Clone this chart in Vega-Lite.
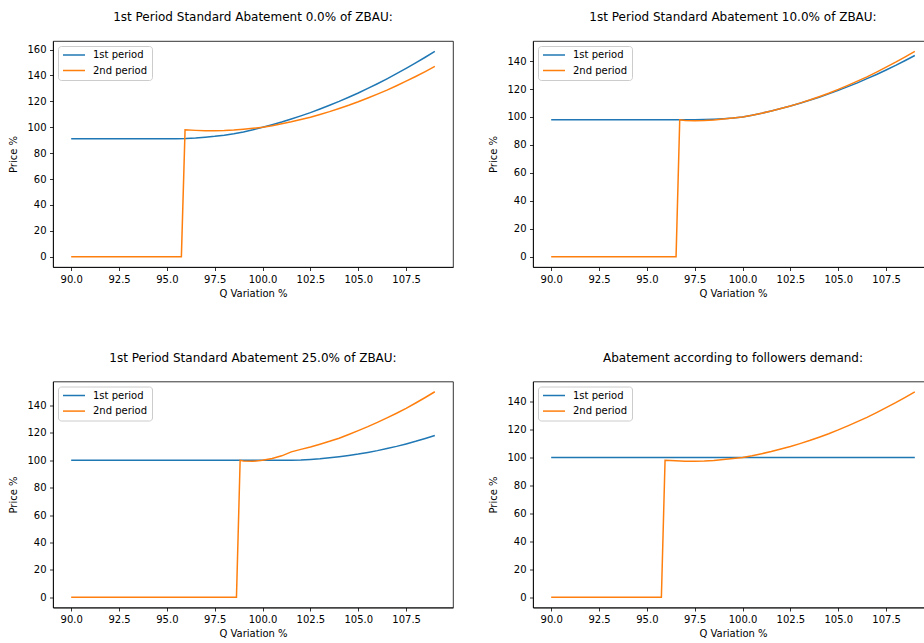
{
  "$schema": "https://vega.github.io/schema/vega-lite/v6.json",
  "background": "white",
  "padding": {"left": 8, "top": 10, "right": 0, "bottom": 0},
  "config": {
    "font": "DejaVu Sans",
    "view": {"stroke": "black", "strokeWidth": 0.8},
    "axis": {
      "grid": false,
      "domainColor": "black",
      "domainWidth": 0.8,
      "tickColor": "black",
      "tickWidth": 0.8,
      "tickSize": 3.5,
      "labelPadding": 3.5,
      "labelFont": "DejaVu Sans",
      "labelFontSize": 10,
      "labelColor": "black",
      "labelFlush": false,
      "titleFont": "DejaVu Sans",
      "titleFontSize": 10,
      "titleFontWeight": "normal",
      "titleColor": "black"
    },
    "axisX": {"titlePadding": 4},
    "axisY": {"titlePadding": 8},
    "title": {
      "font": "DejaVu Sans",
      "fontSize": 12,
      "fontWeight": "normal",
      "color": "black",
      "anchor": "middle",
      "frame": "group",
      "offset": 17
    },
    "legend": {
      "orient": "top-left",
      "offset": 5,
      "title": null,
      "symbolType": "stroke",
      "symbolSize": 484,
      "symbolStrokeWidth": 1.5,
      "clipHeight": 10,
      "labelOffset": 7,
      "labelFont": "DejaVu Sans",
      "labelFontSize": 10,
      "labelColor": "black",
      "padding": 4,
      "rowPadding": 5.6,
      "strokeColor": "#cccccc",
      "fillColor": "rgba(255,255,255,0.8)",
      "cornerRadius": 3
    }
  },
  "datasets": {
    "p1": [
      {"q": 90, "price": 91.1, "series": "1st period"},
      {"q": 95.5, "price": 91.1, "series": "1st period"},
      {"q": 96, "price": 91.3, "series": "1st period"},
      {"q": 96.5, "price": 91.7, "series": "1st period"},
      {"q": 97, "price": 92.3, "series": "1st period"},
      {"q": 97.5, "price": 93.0, "series": "1st period"},
      {"q": 98, "price": 93.9, "series": "1st period"},
      {"q": 98.5, "price": 95.0, "series": "1st period"},
      {"q": 99, "price": 96.4, "series": "1st period"},
      {"q": 99.5, "price": 98.1, "series": "1st period"},
      {"q": 100, "price": 100.0, "series": "1st period"},
      {"q": 100.5, "price": 102.0, "series": "1st period"},
      {"q": 101, "price": 104.1, "series": "1st period"},
      {"q": 101.5, "price": 106.4, "series": "1st period"},
      {"q": 102, "price": 108.8, "series": "1st period"},
      {"q": 102.5, "price": 111.3, "series": "1st period"},
      {"q": 103, "price": 114.1, "series": "1st period"},
      {"q": 103.5, "price": 117.0, "series": "1st period"},
      {"q": 104, "price": 120.0, "series": "1st period"},
      {"q": 104.5, "price": 123.2, "series": "1st period"},
      {"q": 105, "price": 126.5, "series": "1st period"},
      {"q": 105.5, "price": 130.0, "series": "1st period"},
      {"q": 106, "price": 133.6, "series": "1st period"},
      {"q": 106.5, "price": 137.4, "series": "1st period"},
      {"q": 107, "price": 141.4, "series": "1st period"},
      {"q": 107.5, "price": 145.5, "series": "1st period"},
      {"q": 108, "price": 149.7, "series": "1st period"},
      {"q": 108.5, "price": 154.1, "series": "1st period"},
      {"q": 109, "price": 158.7, "series": "1st period"},
      {"q": 90, "price": 0, "series": "2nd period"},
      {"q": 95.758, "price": 0, "series": "2nd period"},
      {"q": 95.95, "price": 98.0, "series": "2nd period"},
      {"q": 96.5, "price": 97.6, "series": "2nd period"},
      {"q": 97, "price": 97.35, "series": "2nd period"},
      {"q": 97.5, "price": 97.3, "series": "2nd period"},
      {"q": 98, "price": 97.5, "series": "2nd period"},
      {"q": 98.5, "price": 97.9, "series": "2nd period"},
      {"q": 99, "price": 98.5, "series": "2nd period"},
      {"q": 99.5, "price": 99.2, "series": "2nd period"},
      {"q": 100, "price": 100.0, "series": "2nd period"},
      {"q": 100.5, "price": 101.25, "series": "2nd period"},
      {"q": 101, "price": 102.7, "series": "2nd period"},
      {"q": 101.5, "price": 104.2, "series": "2nd period"},
      {"q": 102, "price": 106.0, "series": "2nd period"},
      {"q": 102.5, "price": 107.8, "series": "2nd period"},
      {"q": 103, "price": 109.9, "series": "2nd period"},
      {"q": 103.5, "price": 112.1, "series": "2nd period"},
      {"q": 104, "price": 114.5, "series": "2nd period"},
      {"q": 104.5, "price": 117.0, "series": "2nd period"},
      {"q": 105, "price": 119.7, "series": "2nd period"},
      {"q": 105.5, "price": 122.6, "series": "2nd period"},
      {"q": 106, "price": 125.6, "series": "2nd period"},
      {"q": 106.5, "price": 128.7, "series": "2nd period"},
      {"q": 107, "price": 132.1, "series": "2nd period"},
      {"q": 107.5, "price": 135.6, "series": "2nd period"},
      {"q": 108, "price": 139.2, "series": "2nd period"},
      {"q": 108.5, "price": 143.0, "series": "2nd period"},
      {"q": 109, "price": 147.0, "series": "2nd period"}
    ],
    "p2": [
      {"q": 90, "price": 98.0, "series": "1st period"},
      {"q": 96.717, "price": 98.0, "series": "1st period"},
      {"q": 97, "price": 97.95, "series": "1st period"},
      {"q": 97.5, "price": 97.95, "series": "1st period"},
      {"q": 98, "price": 98.1, "series": "1st period"},
      {"q": 98.5, "price": 98.4, "series": "1st period"},
      {"q": 99, "price": 98.8, "series": "1st period"},
      {"q": 99.5, "price": 99.3, "series": "1st period"},
      {"q": 100, "price": 100.0, "series": "1st period"},
      {"q": 100.5, "price": 101.3, "series": "1st period"},
      {"q": 101, "price": 102.7, "series": "1st period"},
      {"q": 101.5, "price": 104.3, "series": "1st period"},
      {"q": 102, "price": 106.0, "series": "1st period"},
      {"q": 102.5, "price": 107.8, "series": "1st period"},
      {"q": 103, "price": 109.8, "series": "1st period"},
      {"q": 103.5, "price": 111.9, "series": "1st period"},
      {"q": 104, "price": 114.1, "series": "1st period"},
      {"q": 104.5, "price": 116.5, "series": "1st period"},
      {"q": 105, "price": 119.0, "series": "1st period"},
      {"q": 105.5, "price": 121.7, "series": "1st period"},
      {"q": 106, "price": 124.4, "series": "1st period"},
      {"q": 106.5, "price": 127.4, "series": "1st period"},
      {"q": 107, "price": 130.4, "series": "1st period"},
      {"q": 107.5, "price": 133.6, "series": "1st period"},
      {"q": 108, "price": 136.9, "series": "1st period"},
      {"q": 108.5, "price": 140.4, "series": "1st period"},
      {"q": 109, "price": 144.0, "series": "1st period"},
      {"q": 90, "price": 0, "series": "2nd period"},
      {"q": 96.525, "price": 0, "series": "2nd period"},
      {"q": 96.717, "price": 98.0, "series": "2nd period"},
      {"q": 97, "price": 97.5, "series": "2nd period"},
      {"q": 97.5, "price": 97.3, "series": "2nd period"},
      {"q": 98, "price": 97.5, "series": "2nd period"},
      {"q": 98.5, "price": 97.9, "series": "2nd period"},
      {"q": 99, "price": 98.5, "series": "2nd period"},
      {"q": 99.5, "price": 99.2, "series": "2nd period"},
      {"q": 100, "price": 100.0, "series": "2nd period"},
      {"q": 100.5, "price": 101.25, "series": "2nd period"},
      {"q": 101, "price": 102.7, "series": "2nd period"},
      {"q": 101.5, "price": 104.2, "series": "2nd period"},
      {"q": 102, "price": 106.0, "series": "2nd period"},
      {"q": 102.5, "price": 107.8, "series": "2nd period"},
      {"q": 103, "price": 109.9, "series": "2nd period"},
      {"q": 103.5, "price": 112.1, "series": "2nd period"},
      {"q": 104, "price": 114.5, "series": "2nd period"},
      {"q": 104.5, "price": 117.0, "series": "2nd period"},
      {"q": 105, "price": 119.7, "series": "2nd period"},
      {"q": 105.5, "price": 122.6, "series": "2nd period"},
      {"q": 106, "price": 125.6, "series": "2nd period"},
      {"q": 106.5, "price": 128.7, "series": "2nd period"},
      {"q": 107, "price": 132.1, "series": "2nd period"},
      {"q": 107.5, "price": 135.6, "series": "2nd period"},
      {"q": 108, "price": 139.2, "series": "2nd period"},
      {"q": 108.5, "price": 143.0, "series": "2nd period"},
      {"q": 109, "price": 147.0, "series": "2nd period"}
    ],
    "p3": [
      {"q": 90, "price": 100.0, "series": "1st period"},
      {"q": 101, "price": 100.0, "series": "1st period"},
      {"q": 101.5, "price": 100.1, "series": "1st period"},
      {"q": 102, "price": 100.3, "series": "1st period"},
      {"q": 102.5, "price": 100.7, "series": "1st period"},
      {"q": 103, "price": 101.2, "series": "1st period"},
      {"q": 103.5, "price": 101.9, "series": "1st period"},
      {"q": 104, "price": 102.7, "series": "1st period"},
      {"q": 104.5, "price": 103.6, "series": "1st period"},
      {"q": 105, "price": 104.6, "series": "1st period"},
      {"q": 105.5, "price": 105.8, "series": "1st period"},
      {"q": 106, "price": 107.1, "series": "1st period"},
      {"q": 106.5, "price": 108.6, "series": "1st period"},
      {"q": 107, "price": 110.2, "series": "1st period"},
      {"q": 107.5, "price": 112.0, "series": "1st period"},
      {"q": 108, "price": 113.9, "series": "1st period"},
      {"q": 108.5, "price": 116.0, "series": "1st period"},
      {"q": 109, "price": 118.2, "series": "1st period"},
      {"q": 90, "price": 0, "series": "2nd period"},
      {"q": 98.636, "price": 0, "series": "2nd period"},
      {"q": 98.828, "price": 100.0, "series": "2nd period"},
      {"q": 99, "price": 99.6, "series": "2nd period"},
      {"q": 99.5, "price": 99.3, "series": "2nd period"},
      {"q": 100, "price": 100.0, "series": "2nd period"},
      {"q": 100.5, "price": 101.3, "series": "2nd period"},
      {"q": 101, "price": 103.3, "series": "2nd period"},
      {"q": 101.5, "price": 106.2, "series": "2nd period"},
      {"q": 102, "price": 108.0, "series": "2nd period"},
      {"q": 102.5, "price": 109.8, "series": "2nd period"},
      {"q": 103, "price": 111.8, "series": "2nd period"},
      {"q": 103.5, "price": 113.9, "series": "2nd period"},
      {"q": 104, "price": 116.2, "series": "2nd period"},
      {"q": 104.5, "price": 118.9, "series": "2nd period"},
      {"q": 105, "price": 121.7, "series": "2nd period"},
      {"q": 105.5, "price": 124.6, "series": "2nd period"},
      {"q": 106, "price": 127.7, "series": "2nd period"},
      {"q": 106.5, "price": 131.0, "series": "2nd period"},
      {"q": 107, "price": 134.4, "series": "2nd period"},
      {"q": 107.5, "price": 138.0, "series": "2nd period"},
      {"q": 108, "price": 141.9, "series": "2nd period"},
      {"q": 108.5, "price": 145.9, "series": "2nd period"},
      {"q": 109, "price": 150.1, "series": "2nd period"}
    ],
    "p4": [
      {"q": 90, "price": 100.0, "series": "1st period"},
      {"q": 109, "price": 100.0, "series": "1st period"},
      {"q": 90, "price": 0, "series": "2nd period"},
      {"q": 95.758, "price": 0, "series": "2nd period"},
      {"q": 95.95, "price": 98.0, "series": "2nd period"},
      {"q": 96.5, "price": 97.6, "series": "2nd period"},
      {"q": 97, "price": 97.35, "series": "2nd period"},
      {"q": 97.5, "price": 97.3, "series": "2nd period"},
      {"q": 98, "price": 97.5, "series": "2nd period"},
      {"q": 98.5, "price": 97.9, "series": "2nd period"},
      {"q": 99, "price": 98.5, "series": "2nd period"},
      {"q": 99.5, "price": 99.2, "series": "2nd period"},
      {"q": 100, "price": 100.0, "series": "2nd period"},
      {"q": 100.5, "price": 101.25, "series": "2nd period"},
      {"q": 101, "price": 102.7, "series": "2nd period"},
      {"q": 101.5, "price": 104.2, "series": "2nd period"},
      {"q": 102, "price": 106.0, "series": "2nd period"},
      {"q": 102.5, "price": 107.8, "series": "2nd period"},
      {"q": 103, "price": 109.9, "series": "2nd period"},
      {"q": 103.5, "price": 112.1, "series": "2nd period"},
      {"q": 104, "price": 114.5, "series": "2nd period"},
      {"q": 104.5, "price": 117.0, "series": "2nd period"},
      {"q": 105, "price": 119.7, "series": "2nd period"},
      {"q": 105.5, "price": 122.6, "series": "2nd period"},
      {"q": 106, "price": 125.6, "series": "2nd period"},
      {"q": 106.5, "price": 128.7, "series": "2nd period"},
      {"q": 107, "price": 132.1, "series": "2nd period"},
      {"q": 107.5, "price": 135.6, "series": "2nd period"},
      {"q": 108, "price": 139.2, "series": "2nd period"},
      {"q": 108.5, "price": 143.0, "series": "2nd period"},
      {"q": 109, "price": 147.0, "series": "2nd period"}
    ]
  },
  "spacing": 340.5,
  "bounds": "flush",
  "resolve": {"scale": {"color": "independent"}, "legend": {"color": "independent"}},
  "vconcat": [
    {
      "spacing": 80,
      "bounds": "flush",
      "resolve": {"scale": {"color": "independent"}, "legend": {"color": "independent"}},
      "hconcat": [
        {
          "title": "1st Period Standard Abatement 0.0% of ZBAU:",
          "width": 400,
          "height": 226,
          "data": {"name": "p1"},
          "mark": {"type": "line", "strokeWidth": 1.5, "clip": true},
          "encoding": {
            "x": {"field": "q", "type": "quantitative", "title": "Q Variation %",
                  "scale": {"domain": [89.05, 109.95], "nice": false, "zero": false},
                  "axis": {"values": [90, 92.5, 95, 97.5, 100, 102.5, 105, 107.5], "format": ".1f"}},
            "y": {"field": "price", "type": "quantitative", "title": "Price %",
                  "scale": {"domain": [-7.94, 166.64], "nice": false, "zero": false},
                  "axis": {"values": [0, 20, 40, 60, 80, 100, 120, 140, 160]}},
            "color": {"field": "series", "type": "nominal",
                      "scale": {"domain": ["1st period", "2nd period"], "range": ["#1f77b4", "#ff7f0e"]}}
          }
        },
        {
          "title": "1st Period Standard Abatement 10.0% of ZBAU:",
          "width": 400,
          "height": 226,
          "data": {"name": "p2"},
          "mark": {"type": "line", "strokeWidth": 1.5, "clip": true},
          "encoding": {
            "x": {"field": "q", "type": "quantitative", "title": "Q Variation %",
                  "scale": {"domain": [89.05, 109.95], "nice": false, "zero": false},
                  "axis": {"values": [90, 92.5, 95, 97.5, 100, 102.5, 105, 107.5], "format": ".1f"}},
            "y": {"field": "price", "type": "quantitative", "title": "Price %",
                  "scale": {"domain": [-7.35, 154.35], "nice": false, "zero": false},
                  "axis": {"values": [0, 20, 40, 60, 80, 100, 120, 140]}},
            "color": {"field": "series", "type": "nominal",
                      "scale": {"domain": ["1st period", "2nd period"], "range": ["#1f77b4", "#ff7f0e"]}}
          }
        }
      ]
    },
    {
      "spacing": 80,
      "bounds": "flush",
      "resolve": {"scale": {"color": "independent"}, "legend": {"color": "independent"}},
      "hconcat": [
        {
          "title": "1st Period Standard Abatement 25.0% of ZBAU:",
          "width": 400,
          "height": 226,
          "data": {"name": "p3"},
          "mark": {"type": "line", "strokeWidth": 1.5, "clip": true},
          "encoding": {
            "x": {"field": "q", "type": "quantitative", "title": "Q Variation %",
                  "scale": {"domain": [89.05, 109.95], "nice": false, "zero": false},
                  "axis": {"values": [90, 92.5, 95, 97.5, 100, 102.5, 105, 107.5], "format": ".1f"}},
            "y": {"field": "price", "type": "quantitative", "title": "Price %",
                  "scale": {"domain": [-7.5, 157.6], "nice": false, "zero": false},
                  "axis": {"values": [0, 20, 40, 60, 80, 100, 120, 140]}},
            "color": {"field": "series", "type": "nominal",
                      "scale": {"domain": ["1st period", "2nd period"], "range": ["#1f77b4", "#ff7f0e"]}}
          }
        },
        {
          "title": "Abatement according to followers demand:",
          "width": 400,
          "height": 226,
          "data": {"name": "p4"},
          "mark": {"type": "line", "strokeWidth": 1.5, "clip": true},
          "encoding": {
            "x": {"field": "q", "type": "quantitative", "title": "Q Variation %",
                  "scale": {"domain": [89.05, 109.95], "nice": false, "zero": false},
                  "axis": {"values": [90, 92.5, 95, 97.5, 100, 102.5, 105, 107.5], "format": ".1f"}},
            "y": {"field": "price", "type": "quantitative", "title": "Price %",
                  "scale": {"domain": [-7.35, 154.35], "nice": false, "zero": false},
                  "axis": {"values": [0, 20, 40, 60, 80, 100, 120, 140]}},
            "color": {"field": "series", "type": "nominal",
                      "scale": {"domain": ["1st period", "2nd period"], "range": ["#1f77b4", "#ff7f0e"]}}
          }
        }
      ]
    }
  ]
}
